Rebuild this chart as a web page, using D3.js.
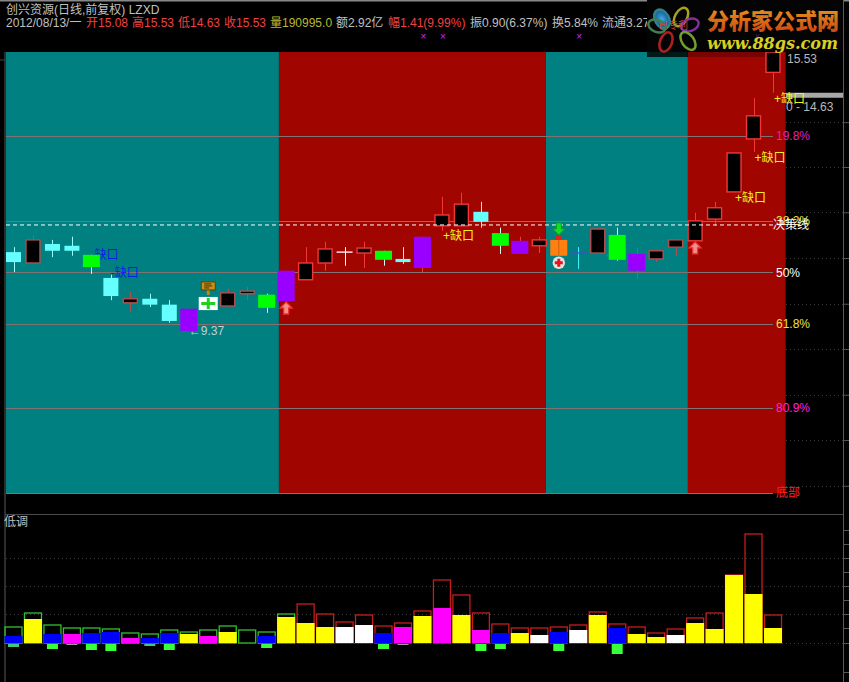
<!DOCTYPE html>
<html><head><meta charset="utf-8">
<script src="https://cdn.jsdelivr.net/npm/d3@7"></script>
<style>html,body{margin:0;padding:0;background:#000;overflow:hidden}svg{display:block}text{font-family:"Liberation Sans","Noto Sans CJK SC",sans-serif;font-size:12px}</style>
</head><body><svg id="c" width="849" height="682"></svg>
<script>
const candleKind=["cyan","black","cyan","cyan","green","cyan","black","cyan","cyan","purple","cross","black","black","green","purple","black","black","dojiW","black","green","cyan","purple","black","black","cyan","green","purple","black","orange","dojiC","black","green","purple","black","black","black","black","black","black","black"];
const candleHigh=[11.22,11.49,11.38,11.45,11.05,10.61,10.23,10.19,10.05,9.86,10.12,10.30,10.34,10.19,10.70,11.22,11.34,11.22,11.34,11.14,11.22,11.45,12.33,12.42,12.22,11.65,11.45,11.45,11.47,11.22,11.65,11.65,11.20,11.14,11.38,11.98,12.22,13.30,14.51,15.53];
const candleBodyTop=[11.11,11.38,11.29,11.25,11.05,10.54,10.08,10.08,9.95,9.86,10.12,10.21,10.25,10.17,10.70,10.87,11.18,11.11,11.20,11.14,10.96,11.45,11.93,12.17,12.00,11.53,11.36,11.38,11.38,11.09,11.62,11.49,11.07,11.14,11.38,11.80,12.09,13.30,14.12,15.53];
const candleBodyBottom=[10.89,10.87,11.14,11.14,10.78,10.14,9.99,9.95,9.59,9.37,9.83,9.92,10.19,9.88,10.03,10.50,10.87,11.11,11.09,10.94,10.89,10.76,11.69,11.69,11.78,11.25,11.07,11.25,11.03,11.09,11.09,10.94,10.70,10.96,11.22,11.36,11.84,12.44,13.61,15.08];
const candleLow=[10.67,10.87,11.00,11.03,10.63,10.05,9.79,9.90,9.55,9.37,9.83,9.92,10.05,9.77,9.99,10.50,10.70,10.81,10.76,10.81,10.85,10.67,11.58,11.69,11.65,11.07,11.07,11.09,11.03,10.74,11.09,10.92,10.52,10.89,11.03,11.36,11.69,12.44,13.32,14.63];
const bandEdges=[-0.385,13.63,27.34,34.63,39.65];
const bandNames=["down","up","down","up"];
const fibPrices=[13.68,11.80,10.67,9.53,7.67,5.80];
const fibLabels=["19.8%","38.2%","50%","61.8%","80.9%","底部"];
const fibColors=["#e020c0","#f0e040","#ffffff","#f0e040","#ff20e0","#ff2020"];
const decisionPrice=11.71;
const priceTicks=[13.98,12.99,11.99,10.98,9.97,8.97,7.96,6.96,5.95];
const gapUp=[[22,11.49],[38,13.21],[37,12.33],[39,14.51]];
const gapDown=[[4,11.06],[5,10.67]];
const crossMarks=[21.05,22.05,29.05,38.2];
const volumeTotal=[16,30,18,15,15,14,10,9,13,11,13,17,13,11,29,39,29,21,28,17,20,32,63,48,30,19,15,15,16,18,31,19,16,10,14,25,30,68,109,28];
const volumeFill=[7,24,9,9,10,11,5,5,10,9,7,11,0,7,26,20,16,16,18,10,16,27,35,28,13,10,10,8,11,13,28,15,9,6,8,20,14,68,49,15];
const volumeNeg=[3,0,5,1,6,7,0,2,6,0,0,0,0,4,0,0,0,0,0,5,1,0,0,0,7,5,0,0,7,0,0,10,0,0,0,0,0,0,0,0];
const fillKind=["blue","yellow","blue","magenta","blue","blue","magenta","blue","blue","yellow","magenta","yellow","none","blue","yellow","yellow","yellow","white","white","blue","magenta","yellow","magenta","yellow","magenta","blue","yellow","white","blue","white","yellow","blue","yellow","yellow","white","yellow","yellow","yellow","yellow","yellow"];
const volumeGuides=[85,57,29,0];
const arrowUpAt=[[14,10.03],[35,11.36]];
const arrowDownAt=[[28,11.38]];
const W=849,PL=6,PR=786,PT=52,PB=493;
const svg=d3.select("#c");
const x=d3.scaleLinear().domain([0,39]).range([13.5,773]);
const y=d3.scaleLinear().domain([5.79,15.53]).range([PB,PT]);
const v=d3.scaleLinear().domain([-39,129]).range([682,514]);
const bandColor=d3.scaleOrdinal().domain(["down","up"]).range(["#008080","#a00500"]);
const fills={cyan:"#66ffff",black:"#000",green:"#00ff00",purple:"#9a00ff",orange:"#ff7f10",cross:"#fff"};
const volFill={blue:"#0000ff",yellow:"#ffff00",magenta:"#ff00ff",white:"#ffffff",none:"none"};
const defs=svg.append("defs");
const g=defs.append("linearGradient").attr("id","og").attr("x1",0).attr("x2",0).attr("y1",0).attr("y2",1);
g.append("stop").attr("offset","0").attr("stop-color","#f0a020");g.append("stop").attr("offset","1").attr("stop-color","#c84010");
const lb=defs.append("radialGradient").attr("id","lb");
lb.append("stop").attr("offset","0").attr("stop-color","#40a8e8");lb.append("stop").attr("offset","1").attr("stop-color","#105888");
defs.append("clipPath").attr("id","pc").append("rect").attr("x",0).attr("y",PT).attr("width",843).attr("height",PB-PT+2);

svg.append("rect").attr("width",W).attr("height",682).attr("fill","#000");
svg.append("rect").attr("width",W).attr("height",1.5).attr("fill","#888");
svg.selectAll(".band").data(bandNames).join("rect")
 .attr("x",(d,i)=>x(bandEdges[i])).attr("width",(d,i)=>x(bandEdges[i+1])-x(bandEdges[i]))
 .attr("y",PT).attr("height",PB-PT).attr("fill",d=>bandColor(d));
const frame="#5a5a5a";
svg.append("line").attr("x1",5).attr("x2",5).attr("y1",52).attr("y2",682).attr("stroke",frame);
svg.append("line").attr("x1",843.5).attr("x2",843.5).attr("y1",0).attr("y2",682).attr("stroke",frame);
svg.append("line").attr("x1",5).attr("x2",843).attr("y1",514.5).attr("y2",514.5).attr("stroke","#4a4a4a");
svg.append("line").attr("x1",0).attr("x2",5).attr("y1",60).attr("y2",60).attr("stroke","#444");
const ax=svg.append("g").attr("transform","translate(843,0)").call(d3.axisRight(y).tickValues(priceTicks).tickSize(6).tickFormat(""));
ax.select(".domain").remove();ax.selectAll("line").attr("stroke","#555");
svg.selectAll(".guide").data(priceTicks).join("line").attr("x1",PR).attr("x2",843).attr("y1",d=>Math.round(y(d))+.5).attr("y2",d=>Math.round(y(d))+.5).attr("stroke","#3a3a3a").attr("stroke-dasharray","1,3");
svg.selectAll(".fib").data(fibPrices).join("line").attr("x1",PL).attr("x2",x(39)).attr("y1",d=>Math.round(y(d))+.5).attr("y2",d=>Math.round(y(d))+.5).attr("stroke","#807272").attr("stroke-width",1);
svg.append("rect").attr("x",PR).attr("y",y(14.63)).attr("width",57).attr("height",5).attr("fill","#a8a8a8");
svg.selectAll(".gd").data(gapDown).join("text").attr("x",d=>x(d[0])+(d[0]==4?3:0)).attr("y",d=>y(d[1])+5).attr("fill","#0a20e8").text(d=>d[0]==4?"缺口":"-缺口");
const bandOf=i=>{for(let k=0;k<4;k++)if(i<bandEdges[k+1])return bandNames[k];return "up"};
const wickColor=(d,i)=>{
 if(d=="cyan")return "#a0ffff";if(d=="green")return "#d0fff0";if(d=="dojiW")return "#fff";if(d=="dojiC")return "#40f0ff";if(d=="cross")return "#fff";
 return bandOf(i)=="up"?"#f03838":"#b05050"};
const marks=svg.append("g").attr("clip-path","url(#pc)");
marks.selectAll(".w").data(candleKind).join("line").attr("x1",(d,i)=>Math.round(x(i))+.5).attr("x2",(d,i)=>Math.round(x(i))+.5)
 .attr("y1",(d,i)=>y(candleHigh[i])).attr("y2",(d,i)=>y(candleLow[i])).attr("stroke",wickColor).attr("stroke-width",1);
const isSolid=k=>k=="green"||k=="purple"||k=="orange"||k=="cross";
const bw=k=>k=="cross"?19:isSolid(k)?17:k=="black"?14:15;
candleKind.forEach((k,i)=>{
 if(k.startsWith("doji")){
  marks.append("line").attr("x1",x(i)-(k=="dojiW"?8:9)).attr("x2",x(i)+(k=="dojiW"?8:9)).attr("y1",y(candleBodyTop[i])).attr("y2",y(candleBodyTop[i])).attr("stroke",k=="dojiW"?"#fff":"#5048d8").attr("stroke-width",1.3);
  return;}
 const w=bw(k),t=y(candleBodyTop[i]),b=y(candleBodyBottom[i]);
 marks.append("rect").attr("x",x(i)-w/2).attr("y",t).attr("width",w).attr("height",b-t).attr("fill",fills[k])
  .attr("stroke",k=="black"?wickColor(k,i):"none").attr("stroke-width",k=="black"?1.4:0);
 if(k=="cross"){
  marks.append("rect").attr("x",x(i)-7).attr("y",(t+b)/2-1.5).attr("width",14).attr("height",3).attr("fill","#20d020");
  marks.append("rect").attr("x",x(i)-1.5).attr("y",t+1).attr("width",3).attr("height",b-t-2).attr("fill","#20d020");
 }
 if(k=="orange"){
  marks.append("rect").attr("x",x(i)-3).attr("y",y(candleHigh[i])).attr("width",6).attr("height",t-y(candleHigh[i])).attr("fill","#e02020");
  marks.append("line").attr("x1",x(i)).attr("x2",x(i)).attr("y1",t).attr("y2",b).attr("stroke","#d06010");
 }
});
svg.append("line").attr("x1",PL).attr("x2",x(39)+2).attr("y1",y(decisionPrice)).attr("y2",y(decisionPrice)).attr("stroke","#fff").attr("stroke-dasharray","4,3");
const up="M0,-6L6,0L2.5,0L2.5,6L-2.5,6L-2.5,0L-6,0Z";
svg.selectAll(".au").data(arrowUpAt).join("path").attr("d",up).attr("transform",d=>`translate(${x(d[0])},${y(d[1])+7})`).attr("fill","#f09088").attr("stroke","#f03030").attr("stroke-width",1.3);
svg.selectAll(".ad").data(arrowDownAt).join("path").attr("d",up).attr("transform",d=>`translate(${x(d[0])},${y(d[1])-11}) scale(1,-1)`).attr("fill","#10e020").attr("stroke","#10a020");
const cp=svg.append("g").attr("transform",`translate(${x(28)},${y(candleBodyBottom[28])+7})`);
cp.append("circle").attr("r",6.2).attr("fill","#e8e0e0");
cp.append("path").attr("d","M-1.5,-4H1.5V-1.5H4V1.5H1.5V4H-1.5V1.5H-4V-1.5H-1.5Z").attr("fill","#e01818");
const sg=svg.append("g").attr("transform",`translate(${x(10)},${y(candleBodyTop[10])-11})`);
sg.append("rect").attr("x",-1.5).attr("y",3).attr("width",3).attr("height",6).attr("fill","#c08810");
sg.append("rect").attr("x",-7).attr("y",-4).attr("width",14).attr("height",8).attr("fill","#c89018").attr("stroke","#604000");
sg.append("path").attr("d","M-4,-2H3M-4,0H4M-4,2H1").attr("stroke","#403000").attr("fill","none");
const yellow="#f8f020";
svg.selectAll(".gu").data(gapUp).join("text").attr("x",d=>x(d[0])+1).attr("y",d=>y(d[1])+5).attr("fill",yellow).text("+缺口");
svg.append("text").attr("x",x(9)).attr("y",y(9.37)+4).attr("fill","#c0d0d0").text("←9.37");
svg.selectAll(".fl").data(fibLabels).join("text").attr("x",776).attr("y",(d,i)=>y(fibPrices[i])+4.5).attr("fill",(d,i)=>fibColors[i]).text(d=>d);
svg.append("text").attr("x",773).attr("y",y(decisionPrice)+4).attr("fill","#fff").text("决策线");
svg.append("text").attr("x",787).attr("y",y(15.53)+11).attr("fill","#b8b8b8").text("15.53");
svg.append("text").attr("x",786).attr("y",y(14.63)+18).attr("fill","#b8b8b8").text("0 - 14.63");
const gr="#c0c0c0",rd="#f04040",ol="#b8b830";
const headerText=["创兴资源(日线,前复权) LZXD"];
svg.append("text").attr("x",6).attr("y",14).attr("fill",gr).text(headerText[0]);
const hSeg=[[6,"2012/08/13/一",gr],[86,"开15.08",rd],[132,"高15.53",rd],[178,"低14.63",rd],[224,"收15.53",rd],[270,"量190995.0",ol],[336,"额2.92亿",gr],[388,"幅1.41(9.99%)",rd],[470,"振0.90(6.37%)",gr],[552,"换5.84%",gr],[602,"流通3.27",gr]];
svg.selectAll(".h").data(hSeg).join("text").attr("x",d=>d[0]).attr("y",27).attr("fill",d=>d[2]).text(d=>d[1]);
svg.append("rect").attr("x",647).attr("y",0).attr("width",196).attr("height",52).attr("fill","#040404");
svg.append("rect").attr("x",647).attr("y",52).attr("width",41).attr("height",5).attr("fill","#000").attr("opacity",.8);
svg.append("rect").attr("x",688).attr("y",52).attr("width",77).attr("height",5).attr("fill","#000").attr("opacity",.25);
svg.selectAll(".xm").data(crossMarks).join("text").attr("x",d=>x(d)).attr("y",40).attr("text-anchor","middle").attr("fill",(d,i)=>i==3?"#501868":"#e020f0").style("font-size","10px").text("×");
const petals=[[662,19,-30,7,10,"url(#lb)","#308090"],[681,17,30,6,10,"none","#a8a020"],[690,25,70,6,9,"none","#8030a0"],[688,41,-35,6,10,"none","#70a030"],[666,42,20,6,10,"none","#b02020"],[657,26,-70,6,9,"none","#408050"]];
svg.selectAll(".pt").data(petals).join("ellipse").attr("transform",d=>`translate(${d[0]},${d[1]}) rotate(${d[2]})`).attr("rx",d=>d[3]).attr("ry",d=>d[4]).attr("fill",d=>d[5]).attr("stroke",d=>d[6]).attr("stroke-width",2.5);
svg.append("text").attr("x",673).attr("y",29).attr("text-anchor","middle").attr("fill","#d04030").style("font-size","10px").text("已专利");
svg.append("text").attr("x",707).attr("y",29).attr("fill","url(#og)").style("font-size","22px").style("font-weight",900).style("font-family","'Noto Sans CJK SC'").text("分析家公式网");
svg.append("text").attr("x",707).attr("y",49).attr("fill","#d8d020").style("font-size","16px").style("font-weight","bold").style("font-style","italic").style("font-family","'DejaVu Serif'").attr("textLength",131).attr("lengthAdjust","spacingAndGlyphs").text("www.88gs.com");
svg.append("text").attr("x",4).attr("y",526).attr("fill",gr).text("低调");
svg.selectAll(".vg").data(volumeGuides).join("line").attr("x1",PL).attr("x2",843).attr("y1",d=>Math.round(v(d))+.5).attr("y2",d=>Math.round(v(d))+.5).attr("stroke","#3a3a3a").attr("stroke-dasharray","1,3");
const ax2=svg.append("g").attr("transform","translate(843,0)").call(d3.axisRight(v).tickValues([113,99,85,71,57,43,29,15,0,-29]).tickSize(6).tickFormat(""));
ax2.select(".domain").remove();ax2.selectAll("line").attr("stroke","#555");
const barX=i=>x(i)-8.5;
svg.selectAll(".vo").data(volumeTotal).join("rect").attr("x",(d,i)=>barX(i)).attr("y",d=>v(d)).attr("width",17).attr("height",d=>v(0)-v(d)).attr("fill","none")
 .attr("stroke",(d,i)=>i<15?"#30c030":"#c81c1c").attr("stroke-width",1.3);
svg.selectAll(".vf").data(volumeFill).join("rect").attr("x",(d,i)=>barX(i)-.5).attr("y",d=>v(d)).attr("width",18).attr("height",d=>v(0)-v(d)).attr("fill",(d,i)=>volFill[fillKind[i]]);
svg.selectAll(".vn").data(volumeNeg).join("rect").attr("x",(d,i)=>x(i)-5.5).attr("y",v(-1)).attr("width",11).attr("height",d=>d?v(-d)-v(-1)+1:0).attr("fill",d=>d==1?"#b090a8":d==3||d==2?"#40c880":"#38ff38");
</script></body></html>
